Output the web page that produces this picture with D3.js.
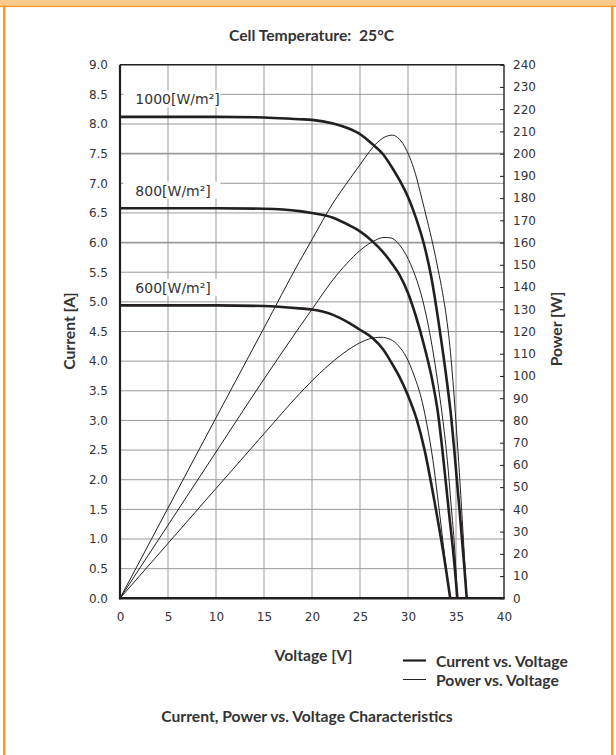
<!DOCTYPE html>
<html>
<head>
<meta charset="utf-8">
<script src="https://cdn.jsdelivr.net/npm/d3@7"></script>
<style>
  body { margin: 0; background: #fff; }
  svg text { fill: #333; white-space: pre; }
</style>
</head>
<body>
<svg width="616" height="755"></svg>
<script>
// tick values
const voltTicks = [0, 5, 10, 15, 20, 25, 30, 35, 40];
const currTicks = d3.range(0, 9.01, 0.5);
const powerTicks = d3.range(0, 241, 10);

// irradiance levels
const irradiance = ["1000", "800", "600"];

// I-V curves [voltage, current]
const iv1000 = [[0,8.12],[5,8.12],[10,8.12],[15,8.11],[18.7,8.08],[20,8.07],[22.2,8.01],[23.9,7.92],[25,7.83],
  [26.3,7.66],[27.4,7.49],[28.4,7.25],[29.4,6.97],[30,6.77],[30.8,6.43],[31.7,5.95],[32.4,5.44],[33.4,4.42],
  [34.05,3.66],[34.5,3.05],[34.85,2.45],[35.35,1.52],[35.87,0.52],[36.12,0]];
const iv800 = [[0,6.58],[5,6.58],[10,6.58],[15,6.57],[18.7,6.53],[20,6.50],[22.2,6.42],[23.9,6.29],[25,6.19],
  [26.3,6.02],[27.4,5.84],[28.4,5.63],[29.1,5.46],[30,5.15],[30.8,4.77],[31.7,4.25],[32.6,3.62],[33.1,3.15],
  [33.55,2.55],[34.2,1.55],[34.85,0.55],[35.15,0]];
const iv600 = [[0,4.94],[5,4.94],[10,4.94],[15,4.93],[18.7,4.89],[20,4.87],[22.2,4.78],[23.9,4.64],[25,4.53],
  [26.3,4.39],[27.4,4.20],[28.4,3.94],[29.1,3.74],[30,3.42],[30.9,3.02],[31.7,2.52],[32.85,1.55],[33.9,0.55],[34.4,0]];

// P-V curves [voltage, power]
const pv1000 = [[0,0],[5,40.6],[10,81.2],[15,121.6],[18.7,151.5],[20,161.4],[22.2,177.8],[24,189],[25,195],
  [26,201],[26.8,205],[27.6,207.5],[28.4,208.3],[29.1,206.5],[29.8,202],[30.3,197],[30.8,190.5],[31.4,180.5],
  [32,170],[32.6,159],[33.15,147.5],[33.6,137.5],[34,126.5],[34.3,116],[34.55,104.5],[34.8,91],[35.05,76],
  [35.35,56.5],[35.65,35.5],[35.9,17],[36.12,0]];
const pv800 = [[0,0],[5,32.9],[10,65.8],[15,98.6],[18.7,122],[20,130],[22.5,145],[24,152.3],[25.3,157.5],
  [26.4,160.6],[27.5,162.3],[28.2,162.1],[29.1,159],[29.8,154.5],[30.3,150],[30.8,144.5],[31.35,137],
  [32.1,123],[32.7,108.5],[33.2,94],[33.65,79.5],[34.1,62],[34.5,41.5],[34.85,23],[35.15,0]];
const pv600 = [[0,0],[5,24.7],[10,49.4],[15,74],[18.7,92],[20.8,101.2],[22.9,109],[24.6,114],[26,116.7],
  [27.2,117.4],[28.2,116.4],[29,113.6],[29.8,108.7],[30.65,100],[31.5,88],[32,77.5],[32.6,62],[33.2,41.5],
  [33.85,18],[34.4,0]];

const ivCurves = [iv1000, iv800, iv600];
const pvCurves = [pv1000, pv800, pv600];

const svg = d3.select("svg");
const L = 120, R = 504, T = 64.7, B = 598.3;
const ink = "#231f20";
const boldFont = "Lato, 'Liberation Sans', sans-serif";
const numFont = "'DejaVu Sans', sans-serif";

const xs = d3.scaleLinear().domain([0, 40]).range([L, R]);
const yI = d3.scaleLinear().domain([0, 9]).range([B, T]);
const yP = d3.scaleLinear().domain([0, 240]).range([B, T]);

// orange page frame
svg.append("rect").attr("x", 0).attr("y", 0).attr("width", 616).attr("height", 5.5).attr("fill", "#fecb8c");
svg.append("rect").attr("x", 0).attr("y", 5.5).attr("width", 616).attr("height", 1.6).attr("fill", "#f59a23");
svg.append("rect").attr("x", 3).attr("y", 5.5).attr("width", 2.5).attr("height", 750).attr("fill", "#f59a23");
svg.append("rect").attr("x", 611).attr("y", 5.5).attr("width", 2.5).attr("height", 750).attr("fill", "#f59a23");

// grid
const grid = svg.append("g").attr("stroke", "#999").attr("fill", "none");
grid.selectAll("line.v").data(voltTicks.filter(d => d > 0 && d < 40)).enter().append("line")
  .attr("x1", d => xs(d)).attr("x2", d => xs(d)).attr("y1", T).attr("y2", B).attr("stroke-width", 1);
grid.selectAll("line.h").data(currTicks.filter(d => d > 0 && d < 9)).enter().append("line")
  .attr("x1", L).attr("x2", R).attr("y1", d => yI(d)).attr("y2", d => yI(d))
  .attr("stroke-width", d => (d === 7.5 || d === 6) ? 1.8 : 1);

// curve labels with white background
irradiance.forEach((lvl, i) => {
  const isc = ivCurves[i][0][1];
  const x = xs(1.6), y = yI(isc) - 12.5;
  svg.append("rect").attr("x", x - 12).attr("y", y - 14).attr("width", 97).attr("height", 17).attr("fill", "#fff");
  svg.append("text").attr("x", x).attr("y", y)
    .attr("font-family", numFont).attr("font-size", 14)
    .text(lvl + "[W/m²]");
});

// curves
const line = yScale => d3.line().x(d => xs(d[0])).y(d => yScale(d[1])).curve(d3.curveMonotoneX);

pvCurves.forEach(c => {
  svg.append("path").datum(c).attr("fill", "none").attr("stroke", ink).attr("stroke-width", 1)
    .attr("d", line(yP));
});
ivCurves.forEach(c => {
  svg.append("path").datum(c).attr("fill", "none").attr("stroke", ink).attr("stroke-width", 2.6)
    .attr("d", line(yI));
});

// axes
const styleAxis = g => {
  g.select(".domain").remove();
  g.selectAll("text").attr("font-family", numFont).attr("font-size", 12).attr("fill", "#333");
  g.selectAll(".tick line").attr("stroke", ink);
};

svg.append("g").attr("transform", `translate(${L},0)`)
  .call(d3.axisLeft(yI).tickValues(currTicks).tickSize(0).tickPadding(12).tickFormat(d3.format(".1f")))
  .call(styleAxis);

svg.append("g").attr("transform", `translate(${R},0)`)
  .call(d3.axisRight(yP).tickValues(powerTicks).tickSize(-4).tickPadding(9))
  .call(styleAxis);

svg.append("g").attr("transform", `translate(0,${B})`)
  .call(d3.axisBottom(xs).tickValues(voltTicks).tickSize(0).tickPadding(14))
  .call(styleAxis);

// plot frame
svg.append("line").attr("x1", L).attr("x2", R).attr("y1", T).attr("y2", T).attr("stroke", ink).attr("stroke-width", 1.4);
svg.append("line").attr("x1", R).attr("x2", R).attr("y1", T).attr("y2", B).attr("stroke", ink).attr("stroke-width", 1.4);
svg.append("line").attr("x1", L).attr("x2", L).attr("y1", T).attr("y2", B + 1).attr("stroke", ink).attr("stroke-width", 2.2);
svg.append("line").attr("x1", L - 1).attr("x2", R + 0.7).attr("y1", B).attr("y2", B).attr("stroke", ink).attr("stroke-width", 2.6);

// titles
const fs = 15.7;
const label = (x, y, txt, anchor, rot) => {
  const t = svg.append("text").attr("x", x).attr("y", y)
    .attr("font-family", boldFont).attr("font-weight", "bold").attr("font-size", fs)
    .attr("text-anchor", anchor || "middle").text(txt);
  if (rot) t.attr("transform", `rotate(${rot},${x},${y})`);
  return t;
};

label(311.5, 41, "Cell Temperature:  25°C");
label(313.5, 660.5, "Voltage [V]");
label(307, 721.5, "Current, Power vs. Voltage Characteristics");
label(75, 331, "Current [A]", "middle", -90);
label(562, 329, "Power [W]", "middle", -90);

// legend
svg.append("line").attr("x1", 403).attr("x2", 426).attr("y1", 660.5).attr("y2", 660.5).attr("stroke", ink).attr("stroke-width", 2.2);
svg.append("line").attr("x1", 403).attr("x2", 426).attr("y1", 679.5).attr("y2", 679.5).attr("stroke", ink).attr("stroke-width", 1);
label(436, 667, "Current vs. Voltage", "start");
label(436, 686, "Power vs. Voltage", "start");
</script>
</body>
</html>
